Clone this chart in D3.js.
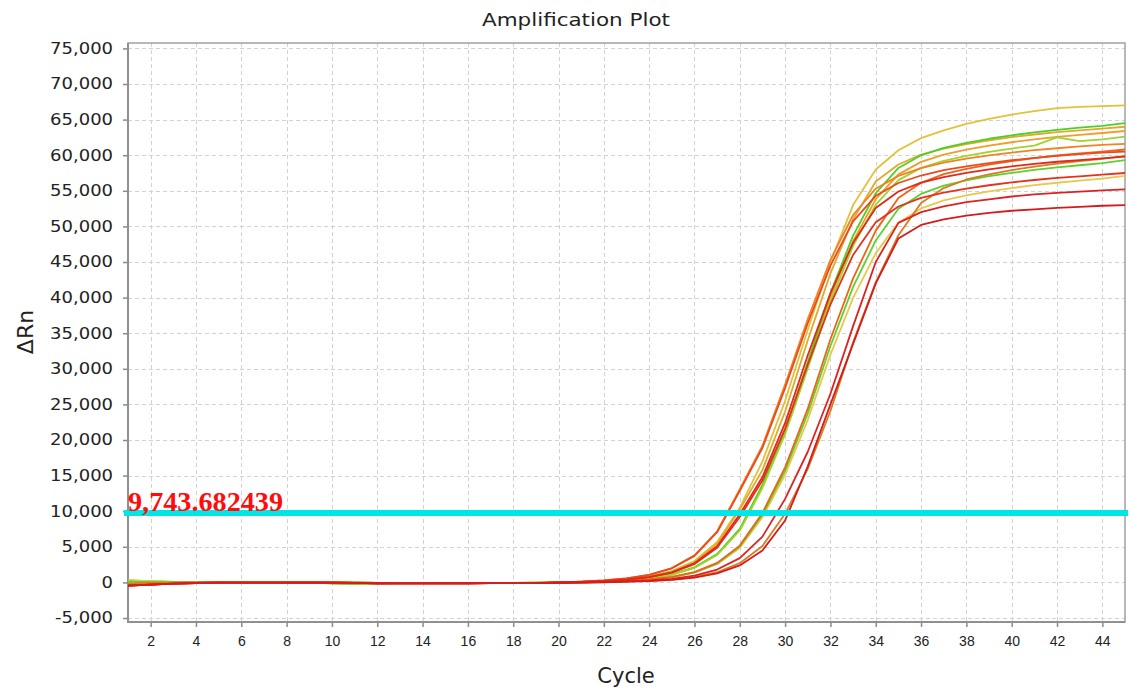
<!DOCTYPE html>
<html><head><meta charset="utf-8">
<script src="https://cdn.jsdelivr.net/npm/d3@7"></script>
<style>body{margin:0;background:#fff;}svg{display:block;}</style>
</head><body><svg id="c" width="1129" height="693"></svg>
<script>
// ---------- data ----------
const cycles = [1,2,3,4,5,6,7,8,9,10,11,12,13,14,15,16,17,18,19,20,21,22,23,24,25,26,27,28,29,30,31,32,33,34,35,36,37,38,39,40,41,42,43,44,45];
const xTicks = [2,4,6,8,10,12,14,16,18,20,22,24,26,28,30,32,34,36,38,40,42,44];
const yTicks = [-5000,0,5000,10000,15000,20000,25000,30000,35000,40000,45000,50000,55000,60000,65000,70000,75000];
const threshold = 9743.682439;
const thresholdLabel = "9,743.682439";
const title = "Amplification Plot";
const xLabel = "Cycle";
const yLabel = "\u0394Rn";

// baseline part, cycles 1-19
const baseRed    = [-450,-300,-180,-80,-40,-30,-20,-20,-20,-30,-60,-120,-130,-130,-120,-120,-110,-110,-100];
const baseYellow = [300,180,80,20,0,0,0,0,0,0,-20,-60,-80,-80,-80,-70,-70,-60,-60];
const baseGreen  = [100,50,20,0,-10,-10,-10,-20,-40,-120,-200,-120,-80,-80,-70,-70,-60,-60,-50];
const baseOrange = [-200,-120,-60,-20,-10,0,0,-10,-10,-20,-40,-80,-100,-100,-90,-90,-80,-80,-70];

// amplification part, cycles 20-45
const riseA = [0,70,210,450,840,1590,3000,5680,10500,17000,25500,35500,45000,53000,58000,60700,62400,63500,64400,65100,65700,66200,66600,66800,66900,67000];
const riseB = [-20,50,140,320,590,1120,2110,3980,7510,13710,21450,30960,40640,48700,54660,58210,59990,61020,61730,62310,62790,63210,63570,63860,64110,64500];
const riseC = [-10,80,200,430,810,1520,2870,5430,10240,15800,24000,34000,43400,51000,56300,58700,60100,60930,61570,62080,62530,62910,63230,63490,63740,64000];
const riseD = [-20,50,130,310,580,1100,2080,3920,7400,13490,21110,30480,40010,47940,53820,57310,59060,60070,60770,61340,61820,62230,62580,62870,63120,63400];
const riseE = [-20,50,130,310,570,1080,2050,3860,7290,13300,20820,30050,39440,47260,53050,56500,58220,59220,59910,60470,60940,61350,62500,61970,62220,62600];
const riseF = [10,120,270,560,1070,2010,3800,7180,13090,19200,27800,37000,45300,51600,55300,57100,58200,58950,59510,59970,60370,60710,60980,61230,61450,61600];
const riseG = [-40,20,90,220,410,770,1450,2740,5170,9760,16170,24400,34160,42700,49410,53990,56120,57340,58070,58680,59170,59600,59960,60270,60510,60800];
const riseH = [10,120,270,550,1050,1980,3730,7050,12860,18900,27300,36400,44500,50700,54300,56100,57150,57900,58440,58900,59290,59620,59900,60140,60350,60500];
const riseI = [-10,70,180,400,750,1420,2690,5070,9570,14800,22400,31900,40600,47700,52600,54900,56150,56930,57530,58010,58430,58780,59080,59320,59560,59800];
const riseJ = [-40,20,80,210,400,750,1410,2660,5030,9490,15720,23720,33210,41510,48030,52480,54560,55740,56450,57050,57520,57940,58290,58590,58900,59300];
const riseK = [-10,70,170,390,730,1370,2580,4880,9200,14300,21600,30600,39000,46000,50600,52800,54000,54740,55320,55780,56180,56520,56810,57040,57270,57500];
const riseL = [-40,20,80,200,380,720,1360,2560,4840,9140,15130,22840,31980,39970,46250,50530,52530,53670,54360,54930,55390,55790,56130,56420,56700,57100];
const riseM = [-50,0,50,140,270,510,960,1810,3410,6430,11730,18350,26500,36000,45000,50500,52000,52800,53400,53800,54200,54500,54700,54900,55050,55200];
const riseN = [-50,-10,20,100,190,360,670,1260,2380,4490,8700,16300,25000,33500,42000,48300,50200,51000,51500,51900,52200,52400,52600,52750,52900,53000];
const riseO = [-50,-10,30,110,210,400,760,1430,2700,5110,9630,15950,24080,33710,42140,48760,53280,55380,56590,57310,57910,58390,58820,59180,59480,59900];

const seriesNames  = ["A","C","L","D","B","E","J","F","G","O","H","K","I","M","N"];
const seriesColors = ["#e2c23c","#e0aa2c","#e8c84c","#f29c2c","#4ecf22","#9ed42c","#5cd22e","#f28222","#f06218","#d87c24","#ea4a1c","#e2321e","#e2281a","#dc2222","#d41c1c"];
const seriesBase   = [baseYellow,baseYellow,baseYellow,baseOrange,baseGreen,baseGreen,baseGreen,baseOrange,baseOrange,baseOrange,baseRed,baseRed,baseRed,baseRed,baseRed];
const seriesRise   = [riseA,riseC,riseL,riseD,riseB,riseE,riseJ,riseF,riseG,riseO,riseH,riseK,riseI,riseM,riseN];

// ---------- chart ----------
const svg = d3.select("#c");
svg.append("rect").attr("width",1129).attr("height",693).attr("fill","#fff");

const L = 128, R = 1125, T = 43, B = 622;
const x = d3.scaleLinear().domain([1,45]).range([L,R]);
const y = d3.scaleLinear().domain([-5560,75760]).range([B,T]);

// grid
const grid = svg.append("g").attr("stroke","#d2d2d2").attr("stroke-width",1).attr("stroke-dasharray","4,3");
grid.selectAll("line.v").data(xTicks).join("line").attr("class","v")
  .attr("x1",d=>Math.round(x(d))+0.5).attr("x2",d=>Math.round(x(d))+0.5).attr("y1",T).attr("y2",B);
grid.selectAll("line.h").data(yTicks).join("line").attr("class","h")
  .attr("x1",L).attr("x2",R).attr("y1",d=>Math.round(y(d))+0.5).attr("y2",d=>Math.round(y(d))+0.5);

// axes
const loc = d3.formatLocale({decimal:".",thousands:",",grouping:[3],currency:["",""],minus:"-"});
const yAxis = svg.append("g").attr("transform",`translate(${L},0)`)
  .call(d3.axisLeft(y).tickValues(yTicks).tickFormat(loc.format(",")).tickSize(5).tickPadding(0));
yAxis.select(".domain").remove();
yAxis.selectAll(".tick line").attr("stroke","#8a8a8a").attr("stroke-width",1.5);
yAxis.selectAll(".tick text")
  .attr("x",-12.5).attr("transform","scale(1.2,1)")
  .style("font-family","'DejaVu Sans', sans-serif").style("font-size","15px").attr("fill","#222");

const xAxis = svg.append("g").attr("transform",`translate(0,${B})`)
  .call(d3.axisBottom(x).tickValues(xTicks).tickFormat(d3.format("d")).tickSize(5).tickPadding(9));
xAxis.select(".domain").remove();
xAxis.selectAll(".tick line").attr("stroke","#8a8a8a").attr("stroke-width",1.5);
xAxis.selectAll(".tick text")
  .style("font-family","'Liberation Sans', Arial, sans-serif").style("font-size","14px").attr("fill","#222");

// frame
svg.append("rect").attr("x",L).attr("y",T).attr("width",R-L).attr("height",B-T)
  .attr("fill","none").attr("stroke","#a0a0a0").attr("stroke-width",1.5);
svg.append("line").attr("x1",L).attr("x2",L).attr("y1",T).attr("y2",B+1).attr("stroke","#909090").attr("stroke-width",2);
svg.append("line").attr("x1",L-1).attr("x2",R).attr("y1",B).attr("y2",B).attr("stroke","#909090").attr("stroke-width",2);

// clip
svg.append("clipPath").attr("id","clip").append("rect").attr("x",L).attr("y",T).attr("width",R-L).attr("height",B-T);

// curves
const series = seriesNames.map((n,i)=>({name:n,color:seriesColors[i],values:seriesBase[i].concat(seriesRise[i])}));
const line = d3.line().x((d,i)=>x(cycles[i])).y(d=>y(d));
svg.append("g").attr("clip-path","url(#clip)")
  .selectAll("path").data(series).join("path")
  .attr("d",d=>line(d.values)).attr("fill","none")
  .attr("stroke",d=>d.color).attr("stroke-width",1.8).attr("stroke-linejoin","round");

// threshold
svg.append("line").attr("x1",L-4).attr("x2",1128).attr("y1",y(threshold)).attr("y2",y(threshold))
  .attr("stroke","#00e5e5").attr("stroke-width",6);
svg.append("text").attr("x",L).attr("y",y(threshold)-2).text(thresholdLabel)
  .attr("fill","#ff0d0d").style("font-family","'Liberation Serif','Times New Roman',serif")
  .style("font-weight","bold").style("font-size","27px")
  .attr("textLength",155).attr("lengthAdjust","spacingAndGlyphs");

// titles
svg.append("text").attr("x",576).attr("y",26).attr("text-anchor","middle").text(title)
  .style("font-family","'DejaVu Sans', sans-serif").style("font-size","17px").attr("fill","#222")
  .attr("textLength",188).attr("lengthAdjust","spacingAndGlyphs");
svg.append("text").attr("x",626).attr("y",683).attr("text-anchor","middle").text(xLabel)
  .style("font-family","'DejaVu Sans', sans-serif").style("font-size","21px").attr("fill","#222");
svg.append("text").attr("transform","translate(33,332) rotate(-90)").attr("text-anchor","middle").text(yLabel)
  .style("font-family","'DejaVu Sans', sans-serif").style("font-size","22px").attr("fill","#222");
</script></body></html>
